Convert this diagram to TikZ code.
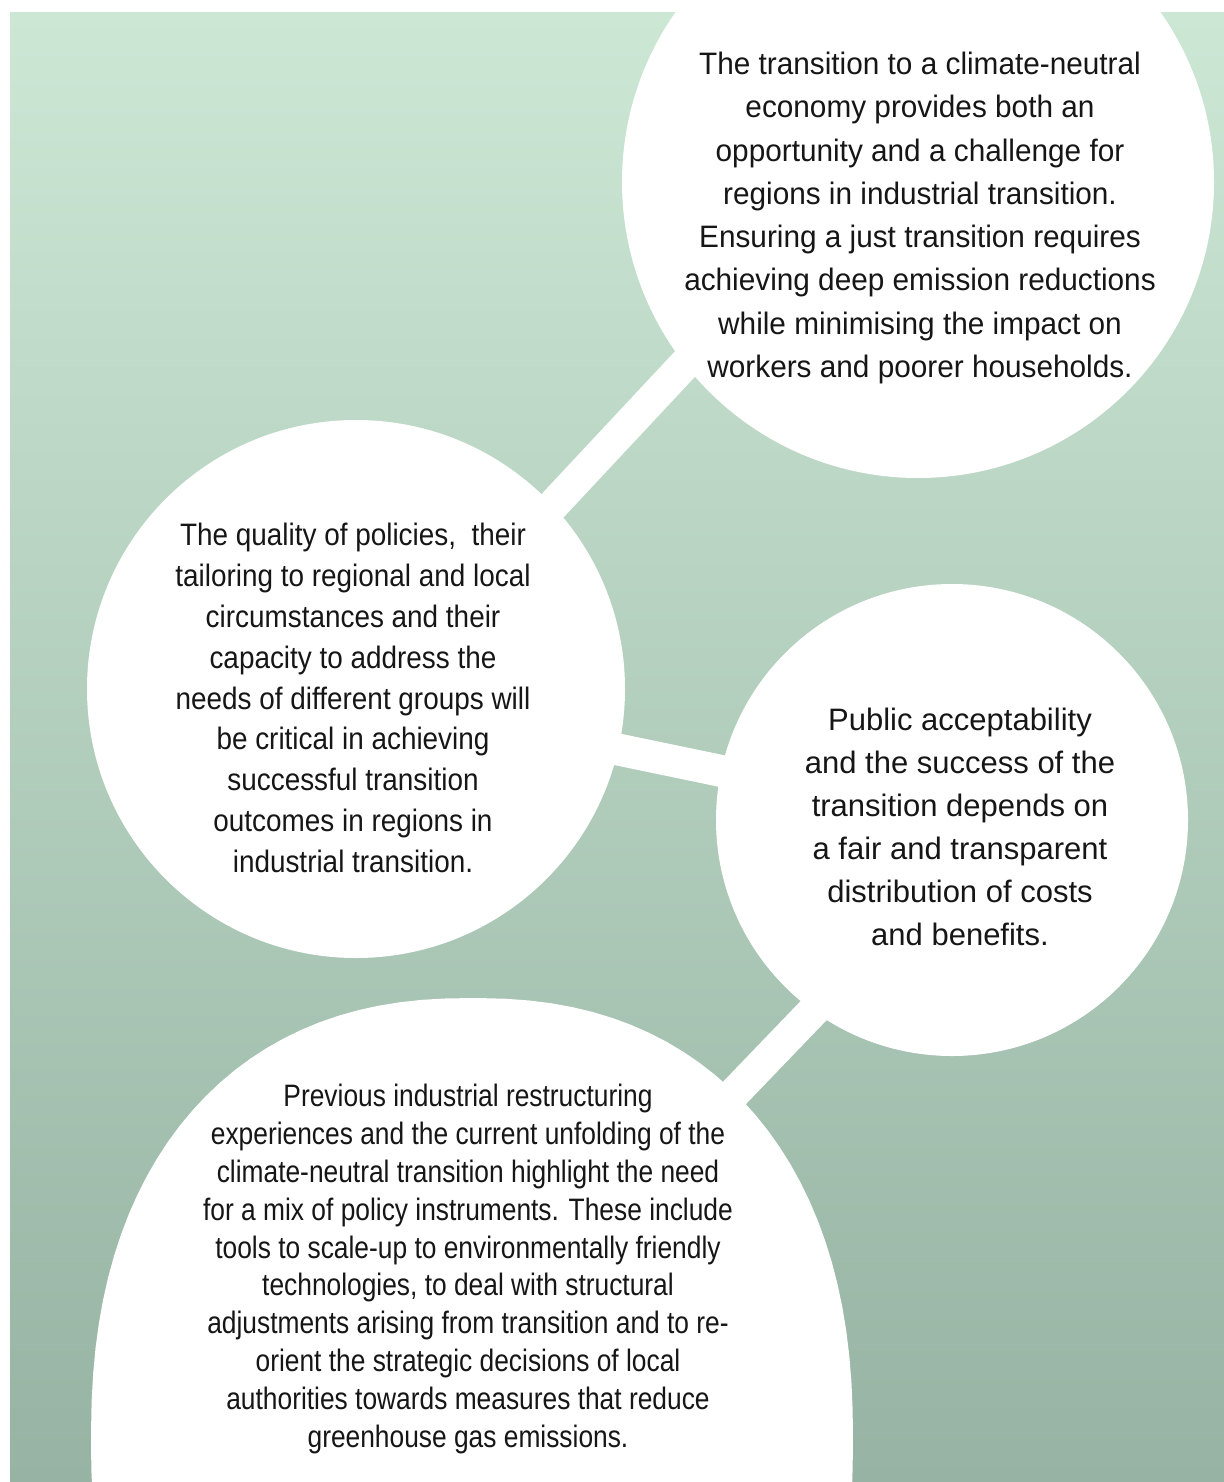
\documentclass[tikz,border=0pt]{standalone}
\usepackage{fontspec}
\setmainfont{Liberation Sans}
\newfontfamily\fa[FakeStretch=0.96]{Liberation Sans}
\newfontfamily\fb[FakeStretch=0.90]{Liberation Sans}
\newfontfamily\fc[FakeStretch=1.0]{Liberation Sans}
\newfontfamily\fd[FakeStretch=0.85]{Liberation Sans}
\definecolor{bgtop}{RGB}{205,231,213}
\definecolor{bgbot}{RGB}{150,179,163}
\definecolor{ink}{RGB}{22,22,22}
\pgfdeclarelayer{bg}
\pgfdeclarelayer{conn}
\pgfsetlayers{bg,conn,main}
\begin{document}
\begin{tikzpicture}[x=0.5pt,y=-0.5pt,
  disc/.style={circle,fill=white,inner sep=0pt,outer sep=0pt},
  link/.style={white,line width=16pt,shorten <=-12pt,shorten >=-12pt},
  txt/.style={align=center,text=ink,inner sep=0pt}]
\useasboundingbox (0,0) rectangle (1224,1482);
\begin{pgfonlayer}{bg}
\fill[white] (0,0) rectangle (1224,1482);
\shade[top color=bgtop,bottom color=bgbot] (10,13) rectangle (1224,1482);
\end{pgfonlayer}
% discs
\node[disc,minimum size=296pt] (c1) at (918,182) {};
\node[disc,minimum size=269pt] (c2) at (356,689) {};
\node[disc,minimum size=236pt] (c3) at (952,820) {};
\fill[white] plot[domain=0.5:360.5,samples=121,variable=\t]
  ({472+381*cos(\t)*abs(cos(\t))^(-0.1304)},{1440+442*sin(\t)*abs(sin(\t))^(-0.1304)}) -- cycle;
\coordinate (k4) at (731.7,1095.8);
% texts
\node[txt,font=\fa\fontsize{15.5pt}{21.65pt}\selectfont] (t1) at (920,218) {The transition to a climate-neutral\\
economy provides both an\\
opportunity and a challenge for\\
regions in industrial transition.\\
Ensuring a just transition requires\\
achieving deep emission reductions\\
while minimising the impact on\\
workers and poorer households.};
\node[txt,font=\fb\fontsize{15.5pt}{20.4pt}\selectfont] (t2) at (353,698) {The quality of policies, \ their\\
tailoring to regional and local\\
circumstances and their\\
capacity to address the\\
needs of different groups will\\
be critical in achieving\\
successful transition\\
outcomes in regions in\\
industrial transition.};
\node[txt,font=\fc\fontsize{15.5pt}{21.45pt}\selectfont] (t3) at (960,827) {Public acceptability\\
and the success of the\\
transition depends on\\
a fair and transparent\\
distribution of costs\\
and benefits.};
\node[txt,font=\fd\fontsize{15.5pt}{18.95pt}\selectfont] (t4) at (468,1269) {Previous industrial restructuring\\
experiences and the current unfolding of the\\
climate-neutral transition highlight the need\\
for a mix of policy instruments. These include\\
tools to scale-up to environmentally friendly\\
technologies, to deal with structural\\
adjustments arising from transition and to re-\\
orient the strategic decisions of local\\
authorities towards measures that reduce\\
greenhouse gas emissions.};
% connectors
\begin{pgfonlayer}{conn}
\draw[link] (c2.43) -- (c1.218.6);
\draw[link] (c2.347) -- (c3.168.8);
\draw[link] (c3.234.1) -- (k4);
\end{pgfonlayer}
\end{tikzpicture}
\end{document}
